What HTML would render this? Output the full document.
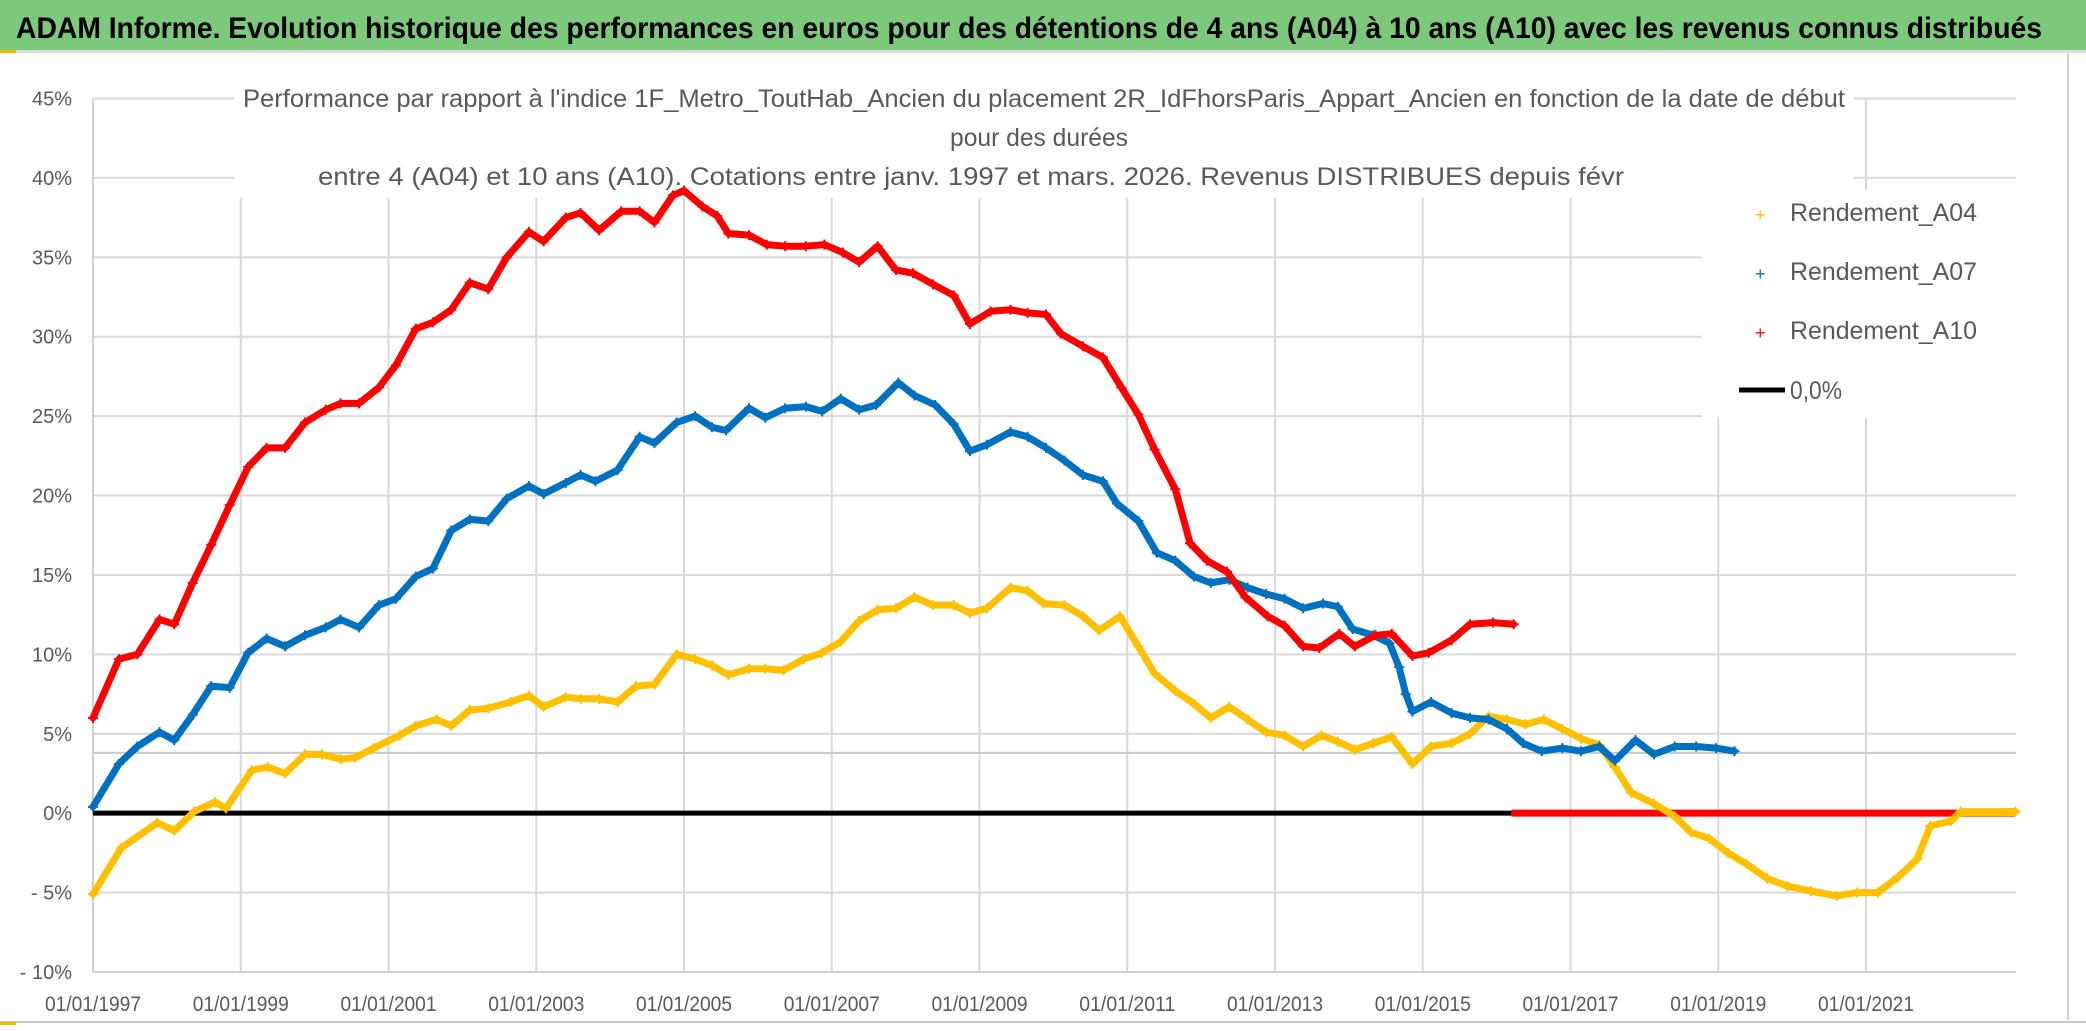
<!DOCTYPE html>
<html>
<head>
<meta charset="utf-8">
<style>
html,body{margin:0;padding:0;background:#fff;}
svg{display:block;font-family:"Liberation Sans",sans-serif;}
</style>
</head>
<body>
<svg id="chart" width="2086" height="1031" viewBox="0 0 2086 1031" xmlns="http://www.w3.org/2000/svg">
  <rect x="0" y="0" width="2086" height="1031" fill="#ffffff"/>
  <rect x="0" y="0" width="2086" height="50" fill="#7dc97b"/>
  <rect x="0" y="50" width="2086" height="3" fill="#dcdcdc"/>
  <rect x="0" y="50" width="16" height="3" fill="#f5b800"/>
  <text x="16" y="38" font-size="30" font-weight="bold" fill="#000" textLength="2026" lengthAdjust="spacingAndGlyphs">ADAM Informe. Evolution historique des performances en euros pour des détentions de 4 ans (A04) à 10 ans (A10) avec les revenus connus distribués</text>
  <line x1="2068" y1="53" x2="2068" y2="1020" stroke="#d0d0d0" stroke-width="2"/>
  <line x1="0" y1="1022" x2="2086" y2="1022" stroke="#c8c8c8" stroke-width="2"/>
  <rect x="0" y="1022" width="16" height="3" fill="#f5b800"/>
  <g id="grid"></g>
  <g id="axes"></g>
  <rect x="234" y="80" width="1620" height="118" fill="#fff"/>
  <g fill="#595959" font-size="25">
    <text x="243" y="107" textLength="1602" lengthAdjust="spacingAndGlyphs">Performance par rapport à l'indice 1F_Metro_ToutHab_Ancien  du placement 2R_IdFhorsParis_Appart_Ancien en fonction de la date de début</text>
    <text x="950" y="146" textLength="178" lengthAdjust="spacingAndGlyphs">pour des durées</text>
    <text x="318" y="185" textLength="1306" lengthAdjust="spacingAndGlyphs">entre 4 (A04) et 10 ans (A10). Cotations entre janv. 1997 et mars. 2026. Revenus DISTRIBUES depuis févr</text>
  </g>
  <g id="series"></g>
  <rect x="1702" y="190" width="316" height="228" fill="#fff"/>
  <g font-size="25" fill="#595959">
    <g>
      <text x="1755" y="221" font-size="18" fill="#ffc000">+</text>
      <text x="1790" y="221" textLength="187" lengthAdjust="spacingAndGlyphs">Rendement_A04</text>
    </g>
    <g>
      <text x="1755" y="280" font-size="18" fill="#0070c0">+</text>
      <text x="1790" y="280" textLength="187" lengthAdjust="spacingAndGlyphs">Rendement_A07</text>
    </g>
    <g>
      <text x="1755" y="339" font-size="18" fill="#ff0000">+</text>
      <text x="1790" y="339" textLength="187" lengthAdjust="spacingAndGlyphs">Rendement_A10</text>
    </g>
    <g>
      <line x1="1739" y1="390" x2="1785" y2="390" stroke="#000" stroke-width="5"/>
      <text x="1790" y="399" textLength="52" lengthAdjust="spacingAndGlyphs">0,0%</text>
    </g>
  </g>
</svg>
<script>
const yTicks = [45,40,35,30,25,20,15,10,5,0,-5,-10];
const yTickLabels = ["45%","40%","35%","30%","25%","20%","15%","10%","5%","0%","- 5%","- 10%"];
const xTicks = [1997,1999,2001,2003,2005,2007,2009,2011,2013,2015,2017,2019,2021];
const xTickLabels = ["01/01/1997","01/01/1999","01/01/2001","01/01/2003","01/01/2005","01/01/2007","01/01/2009","01/01/2011","01/01/2013","01/01/2015","01/01/2017","01/01/2019","01/01/2021"];
const xMin = 1997, xMax = 2023.03;
const refLevel = 3.8;

const a04Dates = [1997.0,1997.38,1997.87,1998.1,1998.37,1998.65,1998.8,1999.15,1999.37,1999.6,1999.87,2000.1,2000.35,2000.55,2000.8,2001.15,2001.37,2001.65,2001.85,2002.1,2002.35,2002.65,2002.9,2003.1,2003.4,2003.6,2003.85,2004.1,2004.35,2004.6,2004.9,2005.15,2005.38,2005.6,2005.88,2006.1,2006.35,2006.62,2006.87,2007.12,2007.37,2007.62,2007.87,2008.12,2008.37,2008.65,2008.87,2009.1,2009.42,2009.65,2009.87,2010.15,2010.4,2010.62,2010.9,2011.15,2011.37,2011.65,2011.9,2012.13,2012.38,2012.63,2012.88,2013.13,2013.38,2013.63,2013.85,2014.08,2014.33,2014.58,2014.86,2015.11,2015.39,2015.64,2015.89,2016.14,2016.39,2016.64,2016.89,2017.14,2017.39,2017.6,2017.82,2018.13,2018.41,2018.63,2018.88,2019.13,2019.38,2019.66,2019.94,2020.25,2020.6,2020.88,2021.16,2021.44,2021.69,2021.87,2022.15,2022.28,2023.02];
const a04Values = [-5.1,-2.2,-0.6,-1.1,0.1,0.7,0.3,2.7,2.9,2.5,3.7,3.7,3.4,3.5,4.1,4.9,5.5,5.9,5.5,6.5,6.6,7.0,7.4,6.7,7.3,7.2,7.2,7.0,8.0,8.1,10.0,9.7,9.3,8.7,9.1,9.1,9.0,9.7,10.1,10.8,12.1,12.8,12.9,13.6,13.1,13.1,12.6,12.9,14.2,14.0,13.2,13.1,12.4,11.5,12.4,10.5,8.8,7.7,6.9,6.0,6.7,5.9,5.1,4.9,4.2,4.9,4.5,4.0,4.4,4.8,3.1,4.2,4.4,5.0,6.1,5.9,5.6,5.9,5.3,4.7,4.3,2.9,1.3,0.6,-0.2,-1.2,-1.6,-2.5,-3.2,-4.1,-4.6,-4.9,-5.2,-5.0,-5.0,-4.0,-2.9,-0.8,-0.5,0.1,0.1];

const a07Dates = [1997.0,1997.35,1997.6,1997.9,1998.1,1998.35,1998.6,1998.85,1999.1,1999.35,1999.6,1999.87,2000.15,2000.35,2000.6,2000.87,2001.1,2001.37,2001.6,2001.85,2002.1,2002.35,2002.6,2002.9,2003.1,2003.4,2003.6,2003.8,2004.1,2004.4,2004.6,2004.9,2005.15,2005.38,2005.57,2005.88,2006.1,2006.37,2006.65,2006.87,2007.12,2007.37,2007.6,2007.9,2008.12,2008.4,2008.65,2008.87,2009.1,2009.42,2009.65,2009.9,2010.15,2010.4,2010.67,2010.86,2011.15,2011.4,2011.65,2011.9,2012.13,2012.38,2012.63,2012.88,2013.13,2013.38,2013.65,2013.85,2014.05,2014.33,2014.55,2014.68,2014.77,2014.86,2015.11,2015.39,2015.64,2015.89,2016.14,2016.36,2016.61,2016.89,2017.14,2017.39,2017.6,2017.88,2018.13,2018.41,2018.7,2018.97,2019.22];
const a07Values = [0.4,3.1,4.2,5.1,4.6,6.2,8.0,7.9,10.1,11.0,10.5,11.2,11.7,12.2,11.7,13.1,13.5,14.9,15.4,17.8,18.5,18.4,19.8,20.6,20.1,20.8,21.3,20.9,21.6,23.7,23.3,24.6,25.0,24.3,24.1,25.5,24.9,25.5,25.6,25.3,26.1,25.4,25.7,27.1,26.3,25.7,24.5,22.8,23.2,24.0,23.7,23.0,22.2,21.3,20.9,19.5,18.4,16.4,15.9,14.9,14.5,14.7,14.2,13.8,13.5,12.9,13.2,13.0,11.6,11.2,10.7,9.2,7.5,6.4,7.0,6.3,6.0,5.9,5.3,4.4,3.9,4.1,3.9,4.2,3.3,4.6,3.7,4.2,4.2,4.1,3.9];

const a10Dates = [1997.0,1997.35,1997.6,1997.9,1998.1,1998.35,1998.6,1998.85,1999.1,1999.35,1999.6,1999.87,2000.15,2000.35,2000.6,2000.87,2001.1,2001.37,2001.6,2001.85,2002.1,2002.35,2002.6,2002.9,2003.1,2003.4,2003.6,2003.85,2004.15,2004.4,2004.6,2004.85,2005.0,2005.25,2005.45,2005.6,2005.88,2006.12,2006.37,2006.65,2006.9,2007.15,2007.37,2007.62,2007.87,2008.1,2008.37,2008.65,2008.87,2009.15,2009.42,2009.65,2009.9,2010.1,2010.4,2010.67,2010.92,2011.15,2011.37,2011.65,2011.85,2012.08,2012.35,2012.6,2012.9,2013.13,2013.38,2013.6,2013.87,2014.08,2014.36,2014.58,2014.86,2015.08,2015.39,2015.64,2015.95,2016.23];
const a10Values = [6.0,9.7,10.0,12.2,11.9,14.5,16.9,19.4,21.8,23.0,23.0,24.6,25.4,25.8,25.8,26.8,28.2,30.5,30.9,31.7,33.4,33.0,35.0,36.6,36.0,37.5,37.8,36.7,37.9,37.9,37.2,38.9,39.2,38.2,37.6,36.5,36.4,35.8,35.7,35.7,35.8,35.3,34.7,35.7,34.2,34.0,33.3,32.6,30.8,31.6,31.7,31.5,31.4,30.2,29.4,28.7,26.8,25.1,22.9,20.4,17.0,15.9,15.2,13.6,12.4,11.8,10.5,10.4,11.3,10.5,11.2,11.3,9.9,10.1,10.9,11.9,12.0,11.9];

const zeroBlackDates = [1997.0,2016.2];
const zeroRedDates = [2016.2,2023.02];
const zeroYellowDates = [2022.28,2023.02];

const L=93, R=2016, T=98.5, B=972;
const xs = d => L + (d - xMin) / (xMax - xMin) * (R - L);
const ys = v => B - (v - (-10)) / 55 * (B - T);
const NS = "http://www.w3.org/2000/svg";
function mk(tag, attrs, parent){ const e=document.createElementNS(NS,tag); for(const k in attrs) e.setAttribute(k,attrs[k]); parent.appendChild(e); return e; }

const grid = document.getElementById('grid');
const axes = document.getElementById('axes');
yTicks.forEach((v,i)=>{
  if (v !== -10) {
    const gl = mk('line',{x1:L,x2:R,y1:ys(v),y2:ys(v),stroke:'#d9d9d9','stroke-width':2},grid);
    
    
  }
  const t = mk('text',{x:72,y:ys(v)+7,'text-anchor':'end','font-size':20,fill:'#595959'},axes);
  t.textContent = yTickLabels[i];
  
  
});
xTicks.forEach((d,i)=>{
  if (i>0) {
    const gl = mk('line',{x1:xs(d),x2:xs(d),y1:T,y2:B,stroke:'#d9d9d9','stroke-width':2},grid);
    
    
  }
  const t = mk('text',{x:xs(d),y:1011,'text-anchor':'middle','font-size':21,fill:'#595959',textLength:96,lengthAdjust:'spacingAndGlyphs'},axes);
  t.textContent = xTickLabels[i];
  
  
});
const ax1 = mk('line',{x1:L,x2:L,y1:T,y2:B,stroke:'#d0d0d0','stroke-width':2},axes);


const ax2 = mk('line',{x1:L,x2:R,y1:B,y2:B,stroke:'#d0d0d0','stroke-width':2},axes);


const ref = mk('line',{x1:L,x2:R,y1:ys(refLevel),y2:ys(refLevel),stroke:'#c8c8c8','stroke-width':2},grid);



const series = document.getElementById('series');
function drawFlat(dates, color, w, name){
  const l = mk('line',{x1:xs(dates[0]),x2:xs(dates[1]),y1:ys(0),y2:ys(0),stroke:color,'stroke-width':w},series);
  
  
}
function drawSeries(dates, vals, color, name){
  const g = mk('g',{},series);
  
  
  const pts = dates.map((d,i)=>xs(d).toFixed(1)+','+ys(vals[i]).toFixed(1)).join(' ');
  mk('polyline',{points:pts,fill:'none',stroke:color,'stroke-width':7,'stroke-linejoin':'round','stroke-linecap':'round'},g);
  dates.forEach((d,i)=>{
    const m = mk('path',{d:`M${xs(d)-5},${ys(vals[i])}h10M${xs(d)},${ys(vals[i])-5}v10`,stroke:color,'stroke-width':2},g);
    
    
  });
}
drawFlat(zeroBlackDates,'#000',5,'zero-line');
drawFlat(zeroRedDates,'#ff0000',7,'a10-zero-segment');
drawSeries(a04Dates,a04Values,'#ffc000','series-a04');
drawSeries(a07Dates,a07Values,'#0070c0','series-a07');
drawSeries(a10Dates,a10Values,'#ff0000','series-a10');
drawFlat(zeroYellowDates,'#ffc000',6,'a04-zero-segment');
</script>
</body>
</html>
